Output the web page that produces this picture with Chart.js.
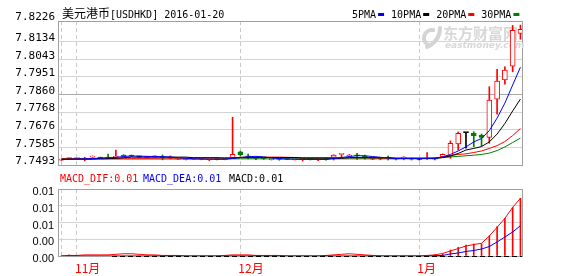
<!DOCTYPE html>
<html>
<head>
<meta charset="utf-8">
<script src="https://cdn.jsdelivr.net/npm/chart.js@4.4.1/dist/chart.umd.min.js"></script>
<style>
  body { margin: 0; background: #fff; }
  #wrap { position: relative; width: 578px; height: 276px; }
  canvas { position: absolute; left: 0; }
</style>
</head>
<body>
<div id="wrap">
  <canvas id="kline" width="578" height="170" style="top:0"></canvas>
  <canvas id="macdChart" width="578" height="106" style="top:170px"></canvas>
</div>
<script>
const symbolName = '美元港币[USDHKD]';

const dates = [
  '2015-10-29', '2015-10-30',
  '2015-11-02', '2015-11-03', '2015-11-04', '2015-11-05', '2015-11-06',
  '2015-11-09', '2015-11-10', '2015-11-11', '2015-11-12', '2015-11-13',
  '2015-11-16', '2015-11-17', '2015-11-18', '2015-11-19', '2015-11-20',
  '2015-11-23', '2015-11-24', '2015-11-25', '2015-11-26', '2015-11-27',
  '2015-11-30',
  '2015-12-01', '2015-12-02', '2015-12-03', '2015-12-04',
  '2015-12-07', '2015-12-08', '2015-12-09', '2015-12-10', '2015-12-11',
  '2015-12-14', '2015-12-15', '2015-12-16', '2015-12-17', '2015-12-18',
  '2015-12-21', '2015-12-22', '2015-12-23', '2015-12-24', '2015-12-25',
  '2015-12-28', '2015-12-29', '2015-12-30', '2015-12-31',
  '2016-01-01',
  '2016-01-04', '2016-01-05', '2016-01-06', '2016-01-07', '2016-01-08',
  '2016-01-11', '2016-01-12', '2016-01-13', '2016-01-14', '2016-01-15',
  '2016-01-18', '2016-01-19', '2016-01-20'
];
const monthLabels = ['11月', '12月', '1月'];

const openPx = [
  7.7518, 7.7527, 7.7526, 7.7524, 7.7534, 7.7533, 7.7531, 7.7534, 7.7545, 7.7542,
  7.7535, 7.7533, 7.7535, 7.7535, 7.7528, 7.7523, 7.7522, 7.7523, 7.7525, 7.7519,
  7.7523, 7.7521, 7.7531, 7.7562, 7.7540, 7.7530, 7.7526, 7.7521, 7.7524, 7.7525,
  7.7520, 7.7521, 7.7525, 7.7519, 7.7524, 7.7533, 7.7548, 7.7540, 7.7545, 7.7540,
  7.7523, 7.7528, 7.7530, 7.7526, 7.7529, 7.7526, 7.7522, 7.7524, 7.7525, 7.7535,
  7.7540, 7.7602, 7.7661, 7.7658, 7.7649, 7.7637, 7.7835, 7.7935, 7.8007, 7.8178
];
const highPx = [
  7.7521, 7.7530, 7.7529, 7.7533, 7.7540, 7.7534, 7.7550, 7.7571, 7.7547, 7.7545,
  7.7537, 7.7537, 7.7541, 7.7545, 7.7540, 7.7526, 7.7525, 7.7527, 7.7527, 7.7523,
  7.7525, 7.7525, 7.7741, 7.7565, 7.7550, 7.7532, 7.7527, 7.7524, 7.7528, 7.7526,
  7.7523, 7.7529, 7.7526, 7.7528, 7.7527, 7.7546, 7.7551, 7.7548, 7.7554, 7.7545,
  7.7533, 7.7532, 7.7540, 7.7528, 7.7536, 7.7530, 7.7525, 7.7557, 7.7528, 7.7551,
  7.7618, 7.7665, 7.7661, 7.7666, 7.7654, 7.7900, 7.7991, 7.8004, 7.8219, 7.8221
];
const lowPx = [
  7.7517, 7.7526, 7.7524, 7.7515, 7.7532, 7.7528, 7.7524, 7.7532, 7.7538, 7.7536,
  7.7533, 7.7531, 7.7533, 7.7520, 7.7525, 7.7522, 7.7520, 7.7522, 7.7520, 7.7516,
  7.7519, 7.7520, 7.7529, 7.7540, 7.7524, 7.7521, 7.7522, 7.7519, 7.7518, 7.7521,
  7.7519, 7.7514, 7.7519, 7.7515, 7.7518, 7.7519, 7.7530, 7.7538, 7.7522, 7.7523,
  7.7521, 7.7520, 7.7519, 7.7520, 7.7520, 7.7519, 7.7519, 7.7522, 7.7520, 7.7533,
  7.7528, 7.7571, 7.7580, 7.7588, 7.7592, 7.7606, 7.7757, 7.7913, 7.7978, 7.8147
];
const closePx = [
  7.7520, 7.7529, 7.7528, 7.7527, 7.7537, 7.7529, 7.7529, 7.7540, 7.7540, 7.7539,
  7.7535, 7.7536, 7.7540, 7.7532, 7.7531, 7.7525, 7.7524, 7.7525, 7.7523, 7.7521,
  7.7521, 7.7523, 7.7549, 7.7545, 7.7535, 7.7527, 7.7524, 7.7523, 7.7522, 7.7522,
  7.7522, 7.7524, 7.7522, 7.7521, 7.7521, 7.7545, 7.7550, 7.7545, 7.7541, 7.7533,
  7.7526, 7.7525, 7.7527, 7.7523, 7.7533, 7.7523, 7.7522, 7.7527, 7.7523, 7.7549,
  7.7606, 7.7658, 7.7661, 7.7645, 7.7636, 7.7831, 7.7930, 7.7987, 7.8193, 7.8199
];

const ma5 = [
  7.7521, 7.7522, 7.7524, 7.7525, 7.7527, 7.7529, 7.7530, 7.7533, 7.7537, 7.7540,
  7.7539, 7.7538, 7.7537, 7.7536, 7.7535, 7.7531, 7.7528, 7.7525, 7.7524, 7.7523,
  7.7523, 7.7523, 7.7527, 7.7532, 7.7536, 7.7538, 7.7535, 7.7530, 7.7526, 7.7524,
  7.7523, 7.7522, 7.7522, 7.7522, 7.7522, 7.7526, 7.7532, 7.7537, 7.7541, 7.7541,
  7.7537, 7.7533, 7.7530, 7.7527, 7.7527, 7.7526, 7.7526, 7.7526, 7.7526, 7.7535,
  7.7548, 7.7566, 7.7587, 7.7613, 7.7631, 7.7672, 7.7737, 7.7815, 7.7909, 7.8002
];
const ma10 = [
  7.7524, 7.7524, 7.7524, 7.7524, 7.7524, 7.7528, 7.7528, 7.7528, 7.7531, 7.7534,
  7.7534, 7.7534, 7.7534, 7.7534, 7.7534, 7.7534, 7.7534, 7.7531, 7.7531, 7.7531,
  7.7531, 7.7529, 7.7529, 7.7531, 7.7531, 7.7531, 7.7532, 7.7532, 7.7532, 7.7532,
  7.7532, 7.7529, 7.7529, 7.7529, 7.7529, 7.7528, 7.7528, 7.7531, 7.7531, 7.7531,
  7.7531, 7.7531, 7.7531, 7.7528, 7.7528, 7.7528, 7.7528, 7.7528, 7.7528, 7.7532,
  7.7540, 7.7553, 7.7571, 7.7579, 7.7589, 7.7613, 7.7654, 7.7709, 7.7774, 7.7836
];
const ma20 = [
  7.7525, 7.7525, 7.7525, 7.7525, 7.7525, 7.7525, 7.7526, 7.7528, 7.7528, 7.7528,
  7.7528, 7.7528, 7.7528, 7.7529, 7.7529, 7.7529, 7.7529, 7.7529, 7.7529, 7.7529,
  7.7529, 7.7530, 7.7531, 7.7533, 7.7534, 7.7534, 7.7534, 7.7534, 7.7534, 7.7533,
  7.7532, 7.7531, 7.7531, 7.7531, 7.7531, 7.7531, 7.7531, 7.7531, 7.7531, 7.7531,
  7.7530, 7.7529, 7.7529, 7.7529, 7.7529, 7.7529, 7.7529, 7.7529, 7.7530, 7.7535,
  7.7542, 7.7548, 7.7551, 7.7558, 7.7566, 7.7579, 7.7594, 7.7615, 7.7646, 7.7683
];
const ma30 = [
  7.7523, 7.7523, 7.7523, 7.7523, 7.7523, 7.7523, 7.7524, 7.7524, 7.7524, 7.7524,
  7.7524, 7.7524, 7.7524, 7.7524, 7.7524, 7.7524, 7.7524, 7.7524, 7.7524, 7.7524,
  7.7524, 7.7524, 7.7525, 7.7525, 7.7525, 7.7525, 7.7525, 7.7525, 7.7525, 7.7525,
  7.7525, 7.7525, 7.7525, 7.7525, 7.7525, 7.7525, 7.7525, 7.7525, 7.7525, 7.7525,
  7.7525, 7.7525, 7.7525, 7.7525, 7.7525, 7.7526, 7.7526, 7.7527, 7.7529, 7.7531,
  7.7535, 7.7538, 7.7541, 7.7544, 7.7548, 7.7555, 7.7568, 7.7587, 7.7610, 7.7633
];

const dif = [
  0, 0.0001, 0.0001, 0.0002, 0.0002, 0.0002, 0.0002, 0.0003, 0.0004, 0.0004,
  0.0003, 0.0002, 0.0002, 0.0001, 0.0001, 0.0001, 0, 0, 0, 0,
  0, 0.0001, 0.0002, 0.0002, 0.0002, 0.0001, 0.0001, 0.0001, 0.0001, 0,
  0, 0, 0, 0, 0.0001, 0.0002, 0.0003, 0.0004, 0.0003, 0.0002,
  0.0001, 0, 0, 0, 0, 0, 0, 0.0001, 0.0002, 0.00045,
  0.0009, 0.00134, 0.00179, 0.00206, 0.00227, 0.00358, 0.00514, 0.00675, 0.00872, 0.01033
];
const dea = [
  0, 0, 0, 0, 0, 0, 0, 0, 0, 0,
  0, 0, 0, 0, 0, 0, 0, 0, 0, 0,
  0, 0, 0, 0, 0, 0, 0, 0, 0, 0,
  0, 0, 0, 0, 0, 0, 0, 0, 0, 0,
  0, 0, 0, 0, 0, 0, 0, 0, 0.00005, 0.0001,
  0.00036, 0.00054, 0.00081, 0.00099, 0.00125, 0.0017, 0.00251, 0.0034, 0.0043, 0.00543
];
const macd = [
  0, 0.0002, 0, 0, 0, 0, 0, 0, 0, 0,
  0, 0, 0, 0, 0, 0, 0, 0, 0, 0,
  0, 0, 0, 0, 0, 0, 0, 0, 0, 0,
  0, 0, 0, 0, 0, 0, 0, 0, 0, 0,
  0, 0, 0, 0, 0, 0, 0, 0, 0.0002, 0.0004,
  0.00107, 0.00156, 0.00197, 0.00215, 0.00215, 0.00358, 0.00525, 0.00675, 0.00872, 0.01033
];

const priceTickLabels = ['7.7493', '7.7585', '7.7676', '7.7768', '7.7860', '7.7951', '7.8043', '7.8134', '7.8226'];
const macdTicks = [0, 0.003, 0.006, 0.009, 0.012];

const RED = '#ff0000', GREEN = '#008000', BLUE = '#0000ff', BLACK = '#000000';
const FRAME = '#a0a0a0';
const idx = dates.map((d, i) => i);

// month boundaries (first point is also marked in the original)
const monthStarts = idx.filter(i => i === 0 || dates[i].slice(5, 7) !== dates[i - 1].slice(5, 7));

const candleColor = i => closePx[i] > openPx[i] ? RED : (closePx[i] < openPx[i] ? GREEN : BLACK);

function xAxis(showLabels) {
  return {
    type: 'linear', min: -0.44, max: 59.2, offset: false, bounds: 'data',
    afterBuildTicks: s => { s.ticks = monthStarts.map(v => ({ value: v })); },
    afterFit: s => { s.height = showLabels ? 20 : 0; s.paddingLeft = 0; s.paddingRight = 0; },
    grid: { color: '#c8c8c8', lineWidth: 1, drawTicks: false, offset: false },
    border: { display: false, dash: [4, 3] },
    ticks: {
      display: showLabels, autoSkip: false, maxRotation: 0, align: 'start',
      labelOffset: -2, padding: 5, color: RED,
      font: { family: 'Noto Sans CJK SC', size: 12 },
      callback: (v, k) => k === 0 ? '' : monthLabels[k - 1]
    }
  };
}

const framePlugin = {
  id: 'frame',
  beforeDatasetsDraw(chart) {
    const { ctx, chartArea: a } = chart;
    ctx.save();
    ctx.strokeStyle = FRAME;
    ctx.lineWidth = 1;
    ctx.strokeRect(a.left + 0.5, a.top + 0.5, a.right - a.left, a.bottom - a.top);
    ctx.restore();
  }
};

function drawMixed(ctx, text, x, y) {
  const runs = text.match(/[\u3000-\u9fff]+|[^\u3000-\u9fff]+/g);
  for (const r of runs) {
    ctx.font = /[\u3000-\u9fff]/.test(r) ? '12px "Noto Sans CJK SC"' : '10px "DejaVu Sans Mono"';
    ctx.fillText(r, x, y);
    x += ctx.measureText(r).width;
  }
}

const watermark = {
  id: 'watermark',
  beforeDatasetsDraw(chart) {
    const ctx = chart.ctx;
    ctx.save();
    ctx.strokeStyle = '#d4d4d4';
    ctx.fillStyle = '#d8d8d8';
    ctx.lineWidth = 4;
    ctx.lineCap = 'round';
    ctx.beginPath();
    ctx.arc(432, 38, 8, Math.PI * 0.6, Math.PI * 1.55);
    ctx.stroke();
    ctx.beginPath();
    ctx.moveTo(427, 47);
    ctx.quadraticCurveTo(440, 41, 440, 28);
    ctx.stroke();
    ctx.font = 'bold 15px "Noto Sans CJK SC"';
    ctx.fillText('东方财富网', 443, 39);
    ctx.font = 'bold italic 9px "DejaVu Sans"';
    ctx.fillText('eastmoney.com', 445, 48);
    ctx.restore();
  }
};

const klineTitle = {
  id: 'klineTitle',
  afterDraw(chart) {
    const ctx = chart.ctx;
    ctx.save();
    ctx.textBaseline = 'alphabetic';
    ctx.fillStyle = BLACK;
    drawMixed(ctx, symbolName + ' ' + dates[dates.length - 1], 62, 18);
    const legend = [['5PMA', BLUE], ['10PMA', BLACK], ['20PMA', RED], ['30PMA', GREEN]];
    ctx.font = '10px "DejaVu Sans Mono"';
    let x = 352;
    legend.forEach(([t, c]) => {
      ctx.fillStyle = BLACK;
      ctx.fillText(t, x, 18);
      x += ctx.measureText(t).width + 2;
      ctx.fillStyle = c;
      ctx.fillRect(x, 13, 6, 3);
      x += 6 + 7;
    });
    ctx.restore();
  }
};

const maLine = (values, color) => ({
  type: 'line',
  data: values.map((v, i) => ({ x: i, y: v })),
  borderColor: color, borderWidth: 1, pointRadius: 0, tension: 0
});

new Chart(document.getElementById('kline'), {
  type: 'bar',
  data: {
    datasets: [
      maLine(ma5, BLUE),
      maLine(ma10, BLACK),
      maLine(ma20, RED),
      maLine(ma30, GREEN),
      {
        type: 'bar',
        data: idx.map(i => ({ x: i, y: [openPx[i], closePx[i]] })),
        backgroundColor: idx.map(i => closePx[i] > openPx[i] ? '#ffffff' : candleColor(i)),
        borderColor: idx.map(candleColor),
        borderWidth: 1, borderSkipped: false,
        barThickness: 5, minBarLength: 1, grouped: false
      },
      {
        type: 'bar',
        data: idx.map(i => ({ x: i, y: [lowPx[i], highPx[i]] })),
        backgroundColor: idx.map(candleColor),
        barThickness: 1, minBarLength: 1, grouped: false
      }
    ]
  },
  options: {
    responsive: false,
    devicePixelRatio: 1,
    animation: false,
    events: [],
    layout: { padding: { top: 21, right: 56, bottom: 5, left: 0 }, autoPadding: false },
    plugins: { legend: { display: false }, tooltip: { enabled: false } },
    scales: {
      x: xAxis(false),
      y: {
        min: 7.7493, max: 7.8242, bounds: 'data', beginAtZero: false,
        afterBuildTicks: s => {
          s.ticks = priceTickLabels.map((t, k) => ({ value: k === priceTickLabels.length - 1 ? s.max : parseFloat(t) }));
        },
        afterFit: s => { s.width = 58; s.paddingTop = 0; s.paddingBottom = 0; },
        grid: { color: c => c.index === 4 ? '#a8a8a8' : '#d4d4d4', drawTicks: false },
        border: { display: false },
        ticks: {
          padding: 3, labelOffset: -3.5, color: BLACK,
          font: { family: 'DejaVu Sans Mono', size: 11 },
          callback: (v, k) => priceTickLabels[k]
        }
      }
    }
  },
  plugins: [framePlugin, watermark, klineTitle]
});

const macdTitle = {
  id: 'macdTitle',
  afterDraw(chart) {
    const ctx = chart.ctx;
    const last = dates.length - 1;
    ctx.save();
    ctx.font = '10px "DejaVu Sans Mono"';
    ctx.fillStyle = RED;
    ctx.fillText('MACD_DIF:' + dif[last].toFixed(2), 60, 12);
    ctx.fillStyle = BLUE;
    ctx.fillText('MACD_DEA:' + dea[last].toFixed(2), 143, 12);
    ctx.fillStyle = BLACK;
    ctx.fillText('MACD:' + macd[last].toFixed(2), 229, 12);
    ctx.restore();
  }
};

const zeroDash = {
  id: 'zeroDash',
  afterDatasetsDraw(chart) {
    const { ctx, chartArea, scales: { x, y } } = chart;
    const py = Math.round(y.getPixelForValue(0)) + 0.5;
    ctx.save();
    ctx.strokeStyle = BLACK;
    ctx.lineWidth = 1;
    ctx.setLineDash([5, 3]);
    ctx.beginPath();
    ctx.moveTo(x.getPixelForValue(6.5), py);
    ctx.lineTo(chartArea.right, py);
    ctx.stroke();
    ctx.restore();
  }
};

new Chart(document.getElementById('macdChart'), {
  type: 'bar',
  data: {
    datasets: [
      {
        type: 'line',
        data: dea.map((v, i) => ({ x: i, y: v })),
        borderColor: BLUE, borderWidth: 1, pointRadius: 0, tension: 0
      },
      {
        type: 'line',
        data: dif.map((v, i) => ({ x: i, y: v })),
        borderColor: RED, borderWidth: 1, pointRadius: 0, tension: 0
      },
      {
        type: 'bar',
        data: macd.map((v, i) => ({ x: i, y: v })),
        backgroundColor: macd.map(v => v >= 0 ? RED : GREEN),
        barThickness: 1, grouped: false
      }
    ]
  },
  options: {
    responsive: false,
    devicePixelRatio: 1,
    animation: false,
    events: [],
    layout: { padding: { top: 19, right: 56, bottom: 0, left: 0 }, autoPadding: false },
    plugins: { legend: { display: false }, tooltip: { enabled: false } },
    scales: {
      x: xAxis(true),
      y: {
        min: 0, max: 0.012, bounds: 'data', beginAtZero: false,
        afterBuildTicks: s => { s.ticks = macdTicks.map(v => ({ value: v })); },
        afterFit: s => { s.width = 58; s.paddingTop = 0; s.paddingBottom = 0; },
        grid: { color: '#d4d4d4', drawTicks: false },
        border: { display: false },
        ticks: {
          padding: 4, labelOffset: 3, color: BLACK,
          font: { family: 'Liberation Sans', size: 11 },
          callback: v => v.toFixed(2)
        }
      }
    }
  },
  plugins: [framePlugin, zeroDash, macdTitle]
});
</script>
</body>
</html>
